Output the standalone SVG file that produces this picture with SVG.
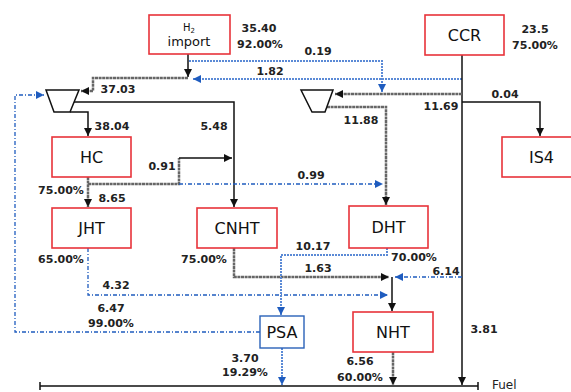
<svg xmlns="http://www.w3.org/2000/svg" width="571" height="392" viewBox="0 0 571 392">
<style>
.bg{fill:#fff}
.rn{fill:#fff;stroke:#e8333a;stroke-width:1.6}
.bn{fill:#fff;stroke:#2a62b8;stroke-width:1.4}
.nt{font-family:"DejaVu Sans",sans-serif;font-size:16px;fill:#111;text-anchor:middle}
.lb{font-family:"DejaVu Sans",sans-serif;font-size:11px;font-weight:bold;fill:#222;text-anchor:middle}
.k{fill:none;stroke:#111;stroke-width:1.5}
.g{fill:none;stroke:#666;stroke-width:2.5;stroke-dasharray:3 0.6}
.bd{fill:none;stroke:#1f5cbf;stroke-width:1.3;stroke-dasharray:4 2 1 2}
.bl{fill:none;stroke:#5b8ad6;stroke-width:2;stroke-dasharray:2 1}
.cmp{fill:#fff;stroke:#111;stroke-width:1.5}
</style>
<defs>
<marker id="ak" viewBox="0 0 8 8" refX="8" refY="4" markerWidth="8" markerHeight="8" markerUnits="userSpaceOnUse" orient="auto"><path d="M0,0 L8,4 L0,8 z" fill="#111"/></marker>
<marker id="ab" viewBox="0 0 8 8" refX="8" refY="4" markerWidth="8" markerHeight="8" markerUnits="userSpaceOnUse" orient="auto"><path d="M0,0 L8,4 L0,8 z" fill="#1f5cbf"/></marker>
</defs>
<rect class="bg" x="0" y="0" width="571" height="392"/>
<g id="connectors">
<path class="k" d="M188,54 V77" marker-end="url(#ak)"/>
<path class="g" d="M188,78 H93 V91 H81" marker-end="url(#ak)"/>
<path class="bl" d="M189,61 H382 V92" marker-end="url(#ab)"/>
<path class="bl" d="M462,79 H193" marker-end="url(#ab)"/>
<path class="k" d="M462,55 V385" marker-end="url(#ak)"/>
<path class="g" d="M462,94 H335" marker-end="url(#ak)"/>
<path class="k" d="M462,102 H540 V136" marker-end="url(#ak)"/>
<path class="g" d="M327,107 H386 V205" marker-end="url(#ak)"/>
<path class="k" d="M74,102 H234 V207" marker-end="url(#ak)"/>
<path class="k" d="M70,112 H88 V136" marker-end="url(#ak)"/>
<path class="g" d="M88,177 V207" marker-end="url(#ak)"/>
<path class="g" d="M88,184 H179 V158"/>
<path class="k" d="M179,158 H232" marker-end="url(#ak)"/>
<path class="bd" d="M179,184 H383" marker-end="url(#ab)"/>
<path class="bd" d="M88,248 V295 H388" marker-end="url(#ab)"/>
<path class="bd" d="M260,332 H15 V95 H44" marker-end="url(#ab)"/>
<path class="g" d="M234,248 V277 H389" marker-end="url(#ak)"/>
<path class="bd" d="M462,277 H395" marker-end="url(#ab)"/>
<path class="k" d="M392,277 V311" marker-end="url(#ak)"/>
<path class="bl" d="M387,248 V255 H281 V315" marker-end="url(#ab)"/>
<path class="bl" d="M282,348 V385" marker-end="url(#ab)"/>
<path class="g" d="M393,352 V385" marker-end="url(#ak)"/>
<path class="k" d="M40,386 H478 M40,382 V390 M478,382 V390"/>
</g>
<g id="comp1"><polygon class="cmp" points="46,90 79,90 70,112 54,112"/></g>
<g id="comp2"><polygon class="cmp" points="301,90 333,90 325,112 312,112"/></g>
<g id="h2import"><rect class="rn" x="149" y="15" width="81" height="39"/>
<text x="189" y="31" font-family="DejaVu Sans,sans-serif" font-size="10" fill="#111" text-anchor="middle">H<tspan font-size="7" dy="2">2</tspan></text>
<text x="189" y="46" font-family="DejaVu Sans,sans-serif" font-size="13" fill="#111" text-anchor="middle">import</text></g>
<g id="ccr"><rect class="rn" x="425" y="15" width="79" height="40"/><text class="nt" x="464.5" y="41" font-size="17">CCR</text></g>
<g id="hc"><rect class="rn" x="52" y="137" width="79" height="40"/><text class="nt" x="91.5" y="163">HC</text></g>
<g id="is4"><rect class="rn" x="502" y="137" width="79" height="40"/><text class="nt" x="541.5" y="163">IS4</text></g>
<g id="jht"><rect class="rn" x="52" y="208" width="79" height="40"/><text class="nt" x="91.5" y="234">JHT</text></g>
<g id="cnht"><rect class="rn" x="197" y="208" width="80" height="40"/><text class="nt" x="237" y="234">CNHT</text></g>
<g id="dht"><rect class="rn" x="349" y="206" width="79" height="42"/><text class="nt" x="388.5" y="233">DHT</text></g>
<g id="psa"><rect class="bn" x="260" y="316" width="44" height="32"/><text class="nt" x="282" y="338">PSA</text></g>
<g id="nht"><rect class="rn" x="353" y="312" width="80" height="40"/><text class="nt" x="393" y="338">NHT</text></g>
<g id="labels">
<text class="lb" x="259" y="32">35.40</text>
<text class="lb" x="260" y="47.5">92.00%</text>
<text class="lb" x="535" y="33">23.5</text>
<text class="lb" x="535" y="49">75.00%</text>
<text class="lb" x="318" y="55">0.19</text>
<text class="lb" x="270" y="75">1.82</text>
<text class="lb" x="118" y="93">37.03</text>
<text class="lb" x="441" y="110">11.69</text>
<text class="lb" x="505" y="98">0.04</text>
<text class="lb" x="361" y="124">11.88</text>
<text class="lb" x="112" y="130">38.04</text>
<text class="lb" x="214" y="130">5.48</text>
<text class="lb" x="162" y="170">0.91</text>
<text class="lb" x="311" y="179">0.99</text>
<text class="lb" x="61" y="194">75.00%</text>
<text class="lb" x="112" y="202">8.65</text>
<text class="lb" x="61" y="263">65.00%</text>
<text class="lb" x="204" y="263">75.00%</text>
<text class="lb" x="313" y="250">10.17</text>
<text class="lb" x="414" y="261">70.00%</text>
<text class="lb" x="318" y="272">1.63</text>
<text class="lb" x="446" y="275">6.14</text>
<text class="lb" x="116" y="289">4.32</text>
<text class="lb" x="111" y="312">6.47</text>
<text class="lb" x="111" y="327">99.00%</text>
<text class="lb" x="484" y="333">3.81</text>
<text class="lb" x="245" y="362">3.70</text>
<text class="lb" x="245" y="376">19.29%</text>
<text class="lb" x="360" y="365">6.56</text>
<text class="lb" x="360" y="381">60.00%</text>
<text x="492" y="389" font-family="DejaVu Sans,sans-serif" font-size="12" fill="#222">Fuel</text>
</g>
</svg>
